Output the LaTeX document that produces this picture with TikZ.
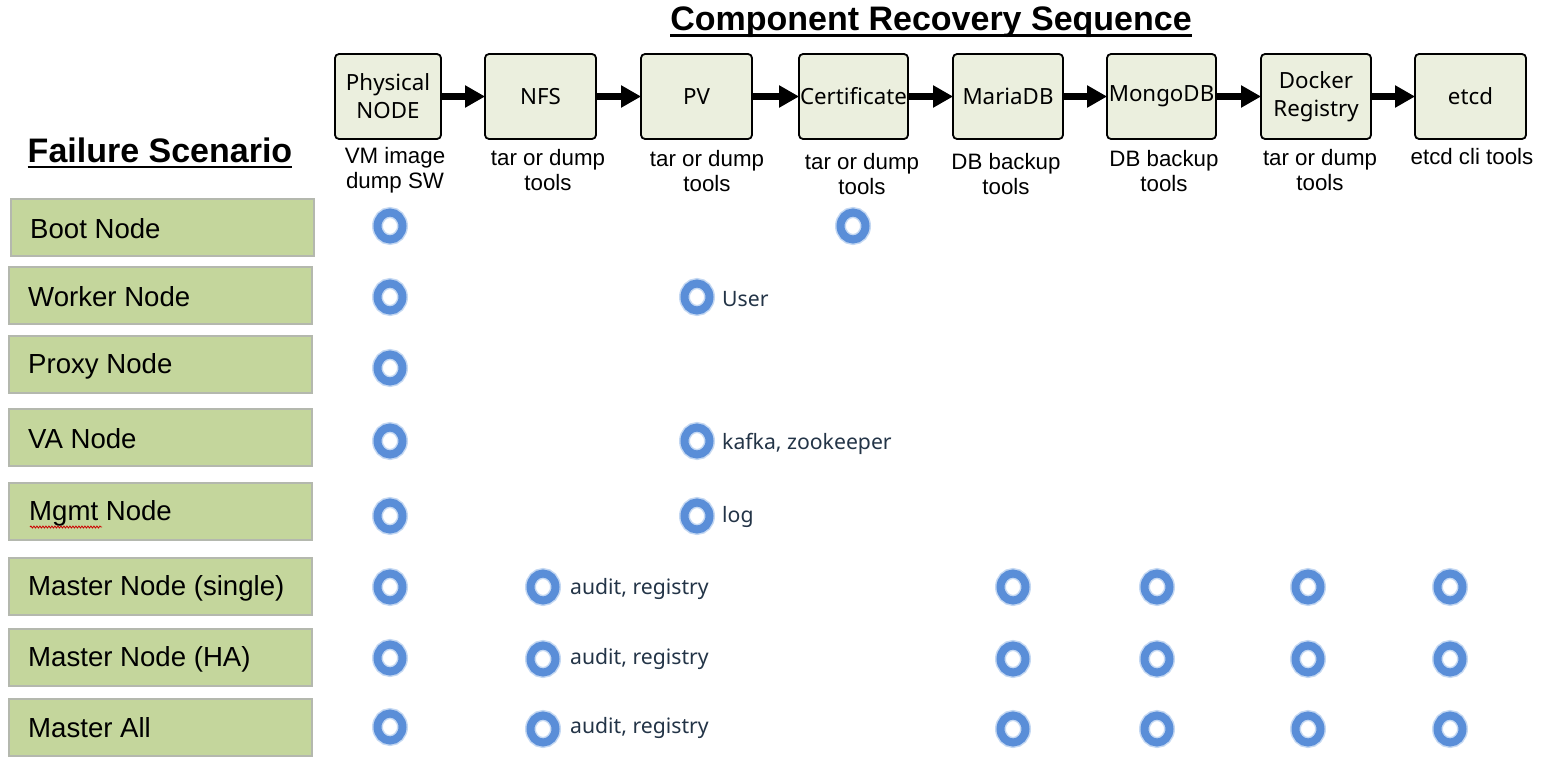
\documentclass[tikz,border=0pt]{standalone}
\usepackage{fontspec}
\setmainfont{Liberation Sans}
\newfontfamily\boxfont{Noto Sans}
\usetikzlibrary{arrows.meta,decorations.pathmorphing}
\definecolor{boxfill}{HTML}{EBEFDE}
\definecolor{rowfill}{HTML}{C4D69C}
\definecolor{rowline}{HTML}{B4B8AE}
\definecolor{ringblue}{HTML}{5A8ED8}
\definecolor{ringhalo}{HTML}{C4D8F2}
\definecolor{notecol}{HTML}{233447}
\tikzset{
  seqbox/.style={draw=black, line width=1.8pt, rounded corners=4pt, fill=boxfill,
    minimum height=85pt, inner sep=0pt, align=center,
    font=\boxfont\fontsize{22.3}{28}\selectfont},
  seqarrow/.style={line width=7pt, -{Triangle[length=20pt,width=21pt]}, shorten <=-1pt, shorten >=-1pt},
  toolnote/.style={align=center, font=\fontsize{22.3}{25.5}\selectfont, inner sep=0pt},
  rowbox/.style={draw=rowline, line width=2pt, fill=rowfill, minimum height=57pt,
    inner sep=0pt},
  rowtext/.style={anchor=west, font=\fontsize{27.6}{32}\selectfont, inner sep=0pt},
  heading/.style={font=\bfseries\fontsize{34}{40}\selectfont, inner sep=0pt},
  mark/.pic={
    \draw[ringhalo, line width=11pt] (0,0) ellipse [x radius=12.5pt, y radius=13.5pt];
    \draw[ringblue, line width=8pt] (0,0) ellipse [x radius=12.5pt, y radius=13.5pt];
  },
  note/.style={anchor=west, font=\boxfont\fontsize{21.2}{24}\selectfont, text=notecol, inner sep=0pt}
}
\begin{document}
\begin{tikzpicture}[x=1pt,y=-1pt]
\useasboundingbox (0,0) rectangle (1541,770);
% titles
\node[heading] (title) at (931,22) {Component Recovery Sequence};
\draw[line width=2.6pt] ([yshift=-5pt]title.base west) -- ([yshift=-5pt]title.base east);
\node[heading] (fail) at (160,150) {Failure Scenario};
\draw[line width=2.4pt] ([yshift=-5pt]fail.base west) -- ([yshift=-5pt]fail.base east);
% sequence boxes
\node[seqbox, minimum width=106pt] (phys) at (388,96.5) {Physical\\NODE};
\node[seqbox, minimum width=111pt] (nfs) at (540.5,96.5) {NFS};
\node[seqbox, minimum width=111pt] (pv) at (696.5,96.5) {PV};
\node[seqbox, minimum width=109pt] (cert) at (853.5,96.5) {Certificate};
\node[seqbox, minimum width=110pt] (maria) at (1008,96.5) {MariaDB};
\node[seqbox, minimum width=109pt] (mongo) at (1161.5,96.5) {MongoDB};
\node[seqbox, minimum width=110pt] (docker) at (1316,96.5) {Docker\\Registry};
\node[seqbox, minimum width=111pt] (etcd) at (1470.5,96.5) {etcd};
\foreach \a/\b in {phys/nfs, nfs/pv, pv/cert, cert/maria, maria/mongo, mongo/docker, docker/etcd}
  \draw[seqarrow] (\a.east) -- (\b.west);
% tool notes
\node[toolnote] (t1) at (395,170) {VM image\\dump SW};
\node[toolnote] (t2) at (548,170) {tar or dump\\tools};
\node[toolnote] (t3) at (707,171) {tar or dump\\tools};
\node[toolnote] (t4) at (862,174) {tar or dump\\tools};
\node[toolnote] (t5) at (1006,174) {DB backup\\tools};
\node[toolnote] (t6) at (1164,171) {DB backup\\tools};
\node[toolnote] (t7) at (1320,170) {tar or dump\\tools};
\node[toolnote] (t8) at (1472,157) {etcd cli tools};
% scenario rows
\node[rowbox, minimum width=303pt] (r1) at (162.5,227.5) {};
\node[rowbox, minimum width=303pt] (r2) at (160.5,295.5) {};
\node[rowbox, minimum width=303pt] (r3) at (160.5,364.5) {};
\node[rowbox, minimum width=303pt] (r4) at (160.5,437.5) {};
\node[rowbox, minimum width=303pt] (r5) at (160.5,511.5) {};
\node[rowbox, minimum width=303pt] (r6) at (160.5,586.5) {};
\node[rowbox, minimum width=303pt] (r7) at (160.5,657.5) {};
\node[rowbox, minimum width=303pt] (r8) at (160.5,727.5) {};
\node[rowtext] (l1) at (30,229) {Boot Node};
\node[rowtext] (l2) at (28,297) {Worker Node};
\node[rowtext] (l3) at (28,366) {Proxy Node};
\node[rowtext] (l4) at (28,439) {VA Node};
\node[rowtext] (l5) at (29,513) {Mgmt Node};
\node[rowtext] (l6) at (28,588) {Master Node (single)};
\node[rowtext] (l7) at (28,659) {Master Node (HA)};
\node[rowtext] (l8) at (28,728) {Master All};
\draw[red!80!black, line width=0.8pt, decorate,
  decoration={snake, amplitude=1pt, segment length=3pt}]
  ([xshift=1pt,yshift=-14pt]l5.west) -- ++(72pt,0);
% marks
\foreach \x/\y/\n in {390/226/a1, 853/226/a2,
    390/297/b1, 697/297/b2,
    390/368/c1,
    390/441/d1, 697/441/d2,
    390/516/e1, 697/516/e2,
    390/587/f1, 543/587/f2, 1013/587/f3, 1157/587/f4, 1308/587/f5, 1450/587/f6,
    390/658/g1, 543/659/g2, 1013/659/g3, 1157/659/g4, 1308/659/g5, 1450/659/g6,
    390/727/h1, 543/729/h2, 1013/729/h3, 1157/729/h4, 1308/729/h5, 1450/729/h6}
  \pic (\n) at (\x,\y) {mark};
\node[note] (n1) at (722,299) {User};
\node[note] (n2) at (722,444) {kafka, zookeeper};
\node[note] (n3) at (722,517) {log};
\node[note] (n4) at (570,589) {audit, registry};
\node[note] (n5) at (570,659) {audit, registry};
\node[note] (n6) at (570,728) {audit, registry};
\end{tikzpicture}
\end{document}
